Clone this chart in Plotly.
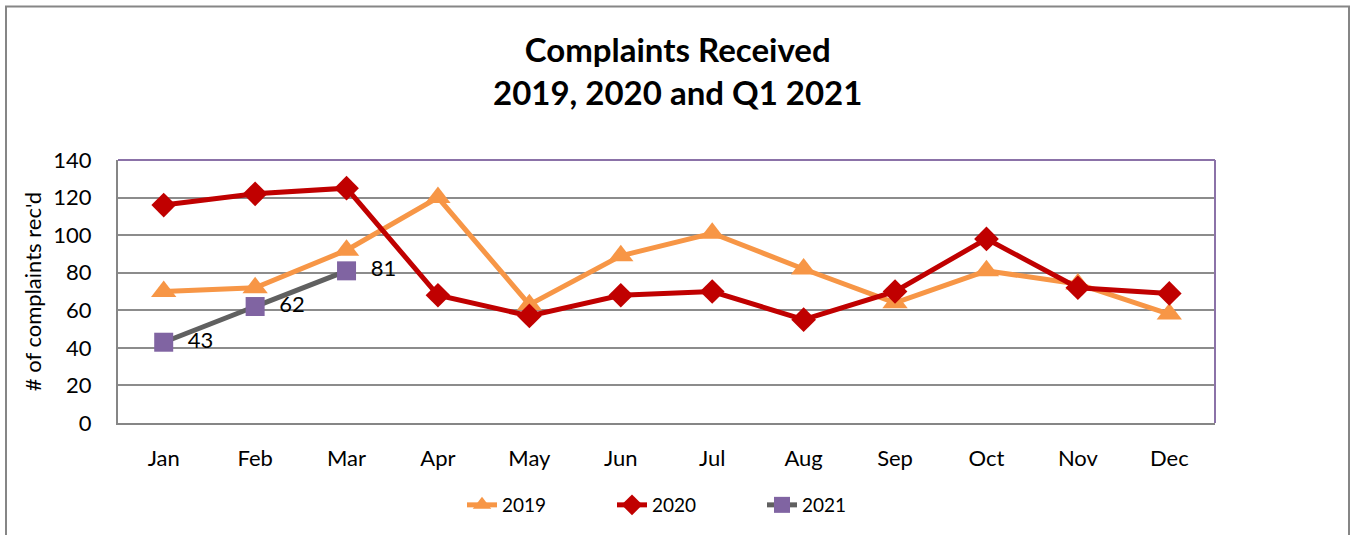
import plotly.graph_objects as go

months = ["Jan", "Feb", "Mar", "Apr", "May", "Jun", "Jul", "Aug", "Sep", "Oct", "Nov", "Dec"]
y2019 = [70, 72, 92, 120, 63, 89, 101, 82, 64, 81, 74, 58]
y2020 = [116, 122, 125, 68, 57, 68, 70, 55, 70, 98, 72, 69]
months2021 = ["Jan", "Feb", "Mar"]
y2021 = [43, 62, 81]
labels2021 = ["43", "62", "81"]

FONT = "Lato"
NBSP = "\u00a0"

fig = go.Figure()
fig.add_trace(go.Scatter(
    x=months, y=y2019, name="2019", mode="lines+markers",
    line=dict(color="#F79646", width=5),
    marker=dict(symbol="triangle-up", size=22, color="#F79646"),
))
fig.add_trace(go.Scatter(
    x=months, y=y2020, name="2020", mode="lines+markers",
    line=dict(color="#C00000", width=5),
    marker=dict(symbol="diamond", size=19, color="#C00000"),
))
fig.add_trace(go.Scatter(
    x=months2021, y=y2021, name="2021", mode="lines+markers+text",
    line=dict(color="#606060", width=5),
    marker=dict(symbol="square", size=19, color="#8064A2"),
    text=[NBSP * 2 + t for t in labels2021], textposition="middle right",
    textfont=dict(size=22, color="#000000", family=FONT),
))

L, R, T, B = 118, 136, 160, 111
W, H = 1351, 535
pw, ph = W - L - R, H - T - B

def px(xp):
    return (xp - L) / pw

def py(yp):
    return (H - B - yp) / ph

shapes = [
    dict(type="rect", xref="paper", yref="paper", x0=px(6), x1=px(1349), y0=py(545), y1=py(6),
         line=dict(color="#868686", width=2), layer="below"),
    dict(type="line", xref="paper", yref="paper", x0=0, x1=1, y0=1, y1=1,
         line=dict(color="#8B72A8", width=2)),
    dict(type="line", xref="paper", yref="paper", x0=1, x1=1, y0=0, y1=1,
         line=dict(color="#8B72A8", width=2)),
]

annotations = [
    dict(text="<b>Complaints Received<br>2019, 2020 and Q1 2021</b>",
         xref="paper", yref="paper", x=px(677), y=py(70),
         xanchor="center", yanchor="middle", showarrow=False,
         font=dict(family=FONT, size=33, color="#000000")),
]

fig.update_layout(
    width=W, height=H,
    margin=dict(l=L, r=R, t=T, b=B),
    paper_bgcolor="white", plot_bgcolor="white",
    font=dict(family=FONT, size=22, color="#000000"),
    xaxis=dict(
        type="category", categoryorder="array", categoryarray=months,
        range=[-0.5, 11.5], showgrid=False, showline=True,
        linecolor="#868686", linewidth=2, ticks="", zeroline=False,
        ticklabelstandoff=15, tickfont=dict(size=22),
    ),
    yaxis=dict(
        range=[0, 140], dtick=20, showgrid=True, gridcolor="#8C8C8C", gridwidth=2,
        showline=True, linecolor="#868686", linewidth=2, ticks="", zeroline=False,
        ticklabelstandoff=20, tickfont=dict(size=22),
        title=dict(text="# of complaints rec'd", font=dict(size=22), standoff=6),
    ),
    legend=dict(
        orientation="h", x=px(462), xanchor="left", y=py(505), yanchor="middle",
        font=dict(size=19), entrywidth=105, bgcolor="rgba(0,0,0,0)",
    ),
    shapes=shapes,
    annotations=annotations,
    showlegend=True,
)

fig.write_html("out.html", config={"displayModeBar": False},
               post_script="document.body.style.margin='0';document.body.style.overflow='hidden';")
